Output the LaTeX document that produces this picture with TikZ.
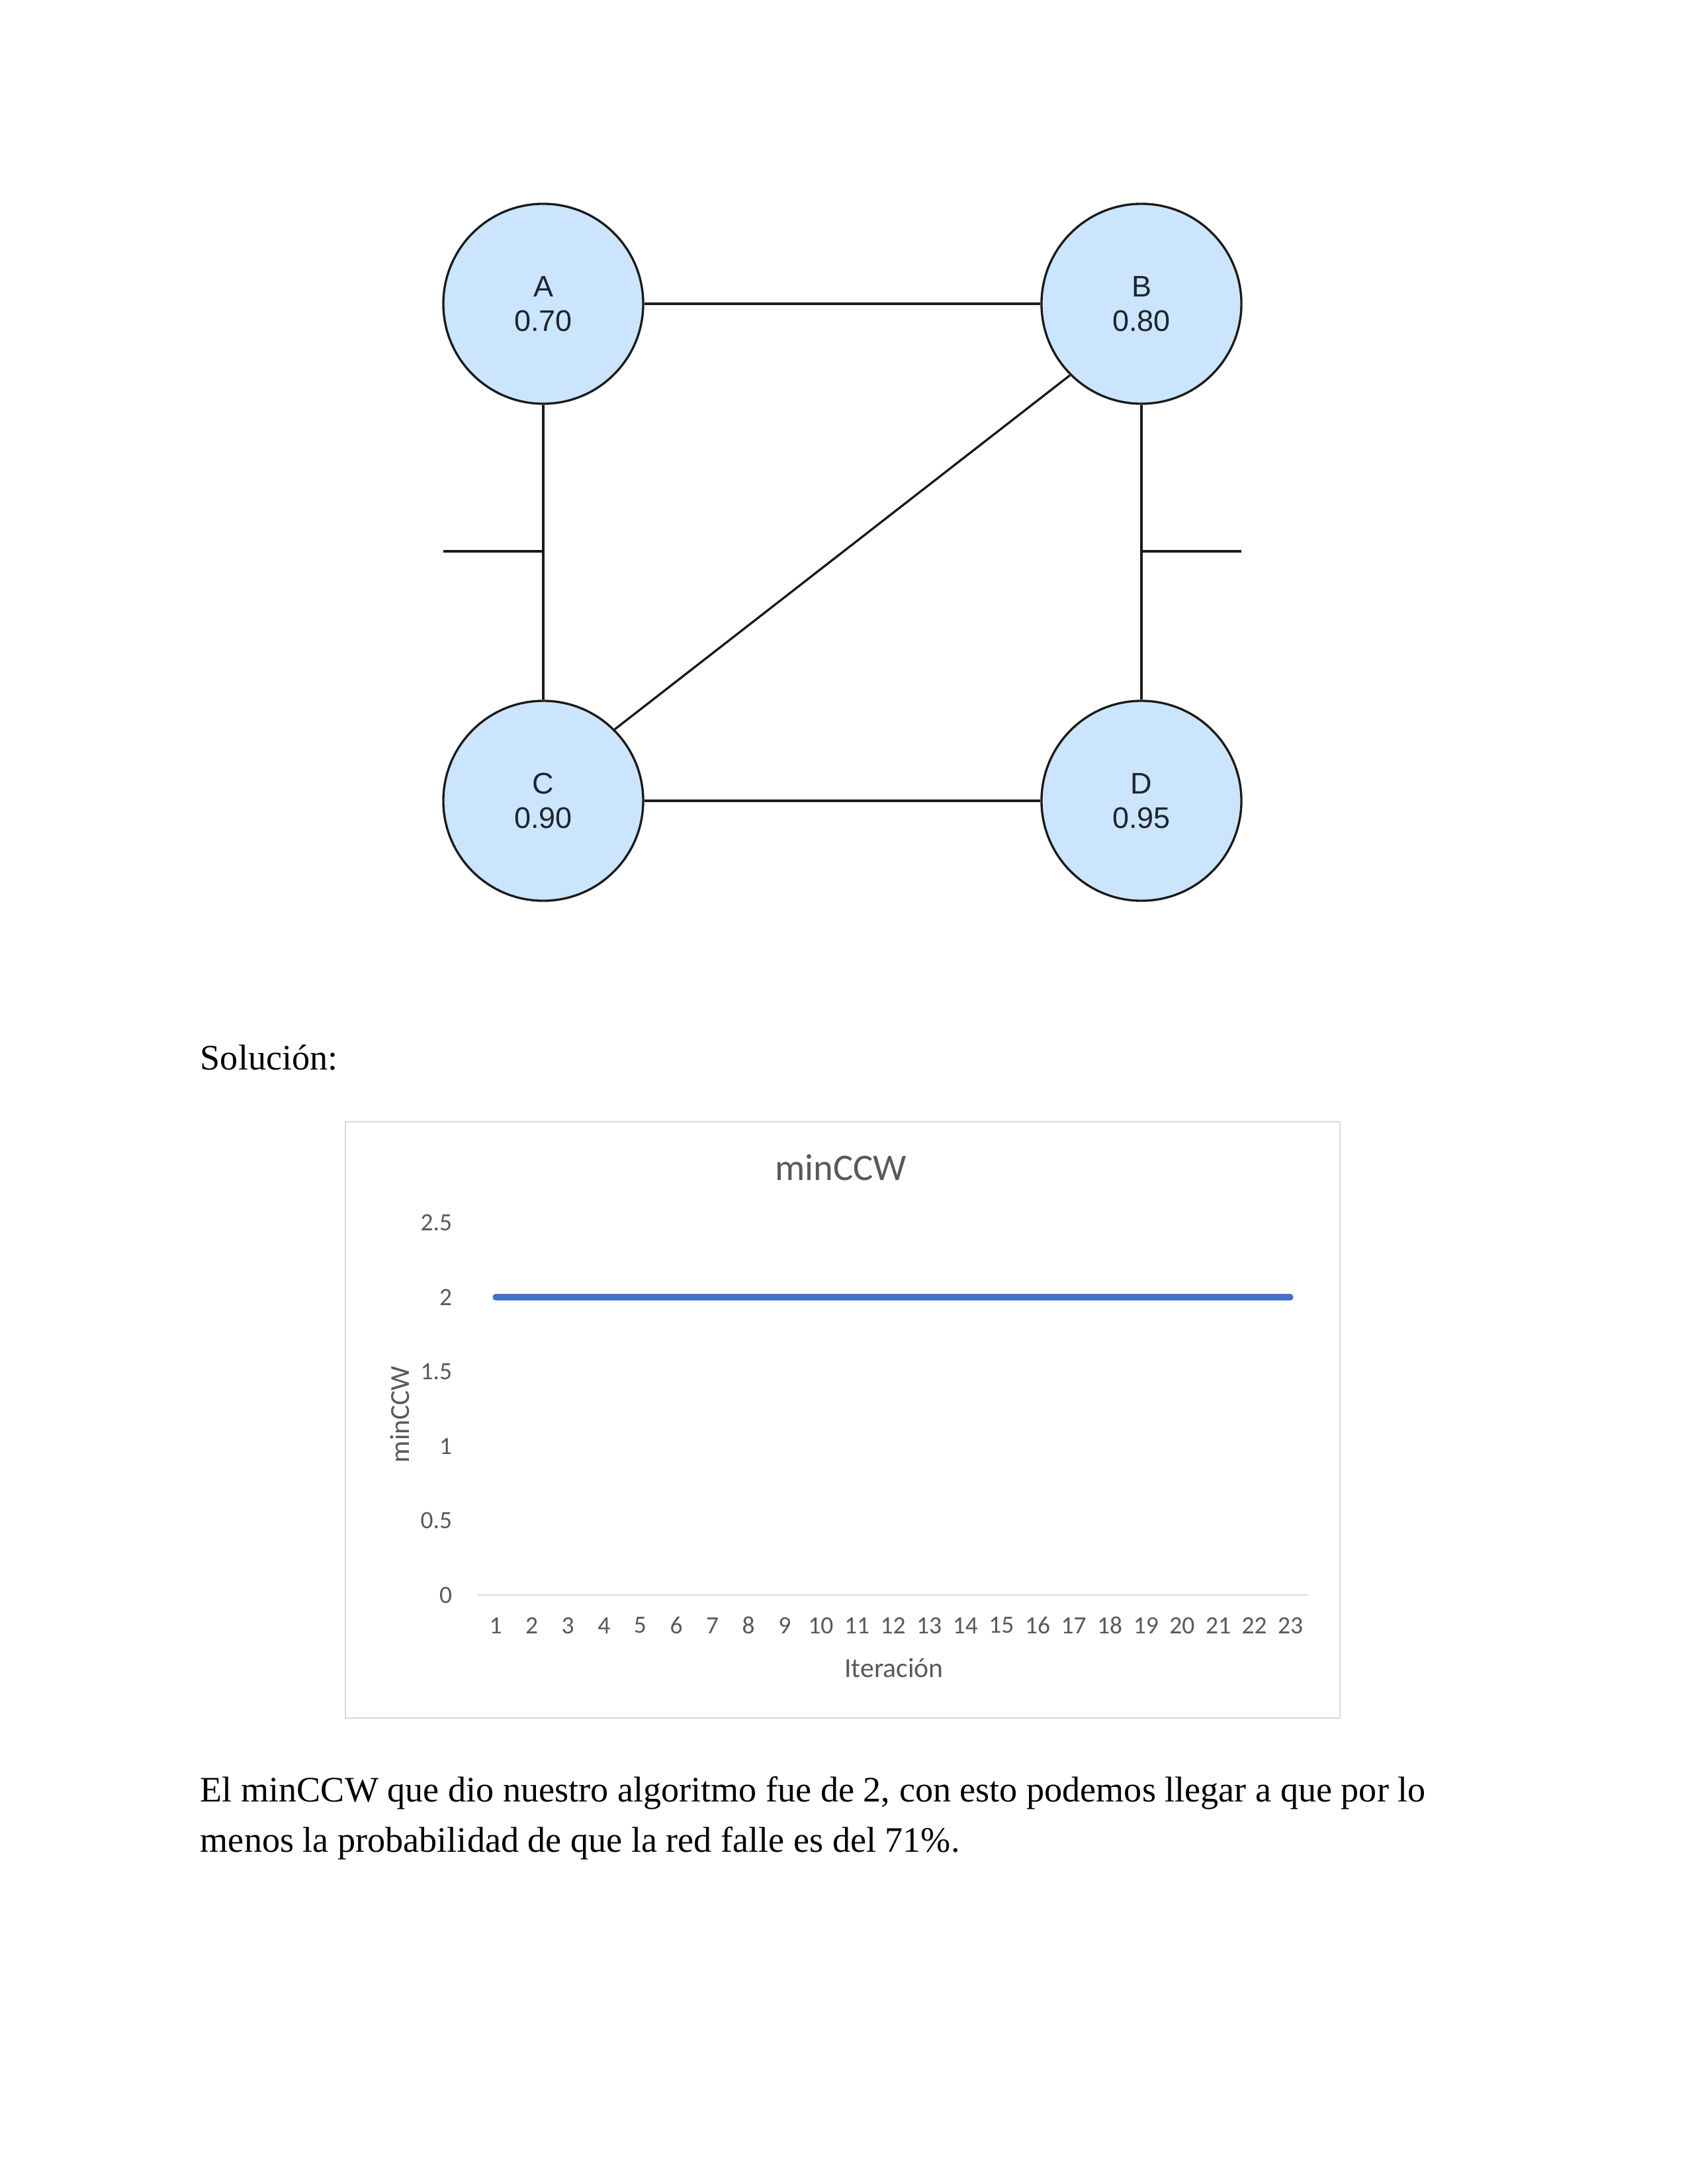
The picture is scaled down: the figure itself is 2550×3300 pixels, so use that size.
\documentclass[tikz,border=0pt]{standalone}
\usepackage{fontspec}
\setmainfont{Liberation Serif}
\newfontfamily\arialf{Liberation Sans}
\newfontfamily\calibrif{Carlito}
\definecolor{nodefill}{HTML}{CCE5FF}
\definecolor{inkc}{HTML}{1A1A1A}
\definecolor{labelc}{HTML}{1C2530}
\definecolor{chartgray}{HTML}{595959}
\definecolor{gridgray}{HTML}{D9D9D9}
\definecolor{serieblue}{HTML}{4472C4}
\begin{document}
\begin{tikzpicture}[x=0.24pt,y=-0.24pt,
  vertex/.style={circle, draw=inkc, line width=0.8pt, fill=nodefill,
    minimum size=72.5pt, inner sep=0pt, align=center,
    font=\arialf\fontsize{10.8}{12.5}\selectfont, text=labelc},
  link/.style={draw=inkc, line width=0.8pt},
  bodytext/.style={anchor=base west, inner sep=0pt, font=\fontsize{13}{18.2}\selectfont},
  ticklbl/.style={font=\calibrif\fontsize{9}{10}\selectfont, text=chartgray, inner sep=0pt},
  axtitle/.style={font=\calibrif\fontsize{10}{12}\selectfont, text=chartgray, inner sep=0pt}]
\useasboundingbox[fill=white] (0,0) rectangle (2550,3300);

% graph
\node[vertex] (A) at (821,459) {A\\0.70};
\node[vertex] (B) at (1725,459) {B\\0.80};
\node[vertex] (C) at (821,1210) {C\\0.90};
\node[vertex] (D) at (1725,1210) {D\\0.95};
\draw[link] (A) -- (B);
\draw[link] (A) -- (C);
\draw[link] (B) -- (D);
\draw[link] (C) -- (D);
\draw[link] (C.north east) -- (B.south west);
\coordinate (cutLa) at (670,833);
\coordinate (cutLb) at (821,833);
\coordinate (cutRa) at (1725,833);
\coordinate (cutRb) at (1876,833);
\draw[link] (cutLa) -- (cutLb);
\draw[link] (cutRa) -- (cutRb);

% heading
\node[bodytext] (sol) at (302,1616) {Solución:};

% chart
\draw[gridgray, line width=0.5pt] (522,1695) rectangle (2025,2596);
\node[font=\calibrif\fontsize{13.6}{15}\selectfont, text=chartgray] (title) at (1271,1764) {minCCW};
\coordinate (ax0) at (722,2410);
\coordinate (ax1) at (1977,2410);
\draw[gridgray, line width=0.6pt] (ax0) -- (ax1);
\foreach \v/\l in {0/0, 0.5/0.5, 1/1, 1.5/1.5, 2/2, 2.5/2.5}
  \node[ticklbl, anchor=east] (yt\l) at (684,{2410-225*\v}) {\l};
\foreach \i in {1,...,23}
  \node[ticklbl] (xt\i) at ({749+54.6*(\i-1)},2456) {\i};
\coordinate (s1) at (749,1960);
\coordinate (s23) at (1950,1960);
\draw[serieblue, line width=2.2pt, line cap=round] (s1) -- (s23);
\node[axtitle] (xtitle) at (1351,2520) {Iteración};
\node[axtitle, rotate=90] (ytitle) at (604,2137) {minCCW};

% body
\node[bodytext] (body1) at (302,2722) {El minCCW que dio nuestro algoritmo fue de 2, con esto podemos llegar a que por lo};
\node[bodytext] (body2) at (302,2798) {menos la probabilidad de que la red falle es del 71\%.};
\end{tikzpicture}
\end{document}
